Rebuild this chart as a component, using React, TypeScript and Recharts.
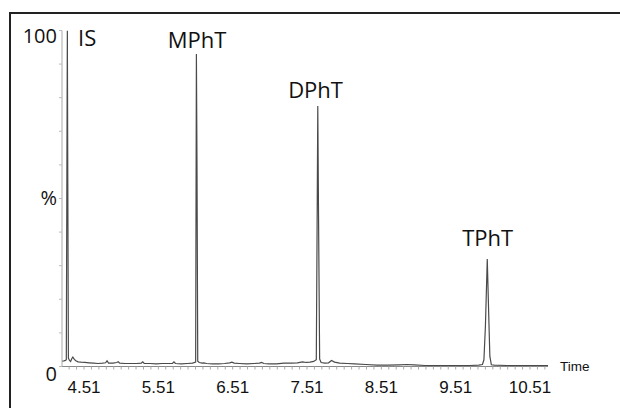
import React from 'react';
import { LineChart, Line, XAxis, YAxis, ReferenceDot, Label } from 'recharts';

// Retention time (min) and relative abundance (%)
const TIME = [
  4.214, 4.24, 4.26, 4.272, 4.28, 4.286, 4.292, 4.30, 4.315, 4.33, 4.345, 4.36, 4.38, 4.40, 4.43, 4.47,
  4.52, 4.58, 4.64, 4.70, 4.76, 4.80, 4.82, 4.84, 4.90, 4.95, 4.97, 4.99, 5.06, 5.14, 5.22, 5.28,
  5.30, 5.32, 5.40, 5.48, 5.56, 5.64, 5.70, 5.72, 5.74, 5.82, 5.90, 5.97, 6.012, 6.022, 6.030, 6.040,
  6.06, 6.10, 6.12, 6.16, 6.24, 6.32, 6.40, 6.47, 6.50, 6.53, 6.60, 6.70, 6.80, 6.87, 6.90, 6.93,
  7.00, 7.10, 7.20, 7.30, 7.38, 7.45, 7.50, 7.55, 7.60, 7.635, 7.648, 7.655, 7.665, 7.68, 7.70, 7.75,
  7.80, 7.84, 7.88, 7.95, 8.05, 8.15, 8.30, 8.45, 8.60, 8.75, 8.85, 8.95, 9.10, 9.30, 9.50, 9.70,
  9.82, 9.87, 9.89, 9.91, 9.935, 9.955, 9.97, 9.99, 10.03, 10.20, 10.40, 10.60, 10.752,
];
const SIGNAL = [
  1.6, 1.7, 1.8, 2.0, 60, 100, 55, 2.5, 1.8, 1.5, 2.3, 2.8, 2.1, 1.7, 1.4, 1.3,
  1.2, 1.1, 1.0, 0.9, 1.0, 1.1, 1.7, 1.0, 1.0, 1.2, 1.4, 1.0, 0.9, 0.9, 0.9, 1.0,
  1.4, 0.9, 0.9, 0.8, 0.9, 0.9, 0.9, 1.4, 0.9, 0.8, 0.9, 1.0, 1.3, 93, 60, 1.6,
  1.2, 1.0, 1.1, 0.9, 0.8, 0.8, 0.9, 1.1, 1.3, 1.0, 0.9, 0.8, 0.9, 1.0, 1.2, 0.9,
  0.8, 0.8, 1.0, 1.0, 1.1, 1.4, 1.2, 1.3, 1.5, 2.0, 50, 77.5, 45, 2.2, 1.2, 1.0,
  1.1, 1.8, 1.3, 1.0, 0.9, 0.8, 0.6, 0.4, 0.4, 0.5, 0.6, 0.5, 0.3, 0.3, 0.3, 0.3,
  0.4, 0.6, 2.0, 12, 32, 15, 3.0, 0.5, 0.4, 0.3, 0.3, 0.3, 0.3,
];

const PEAK_NAMES = ['IS', 'MPhT', 'DPhT', 'TPhT'];
const PEAK_LABEL_T = [4.43, 6.03, 7.625, 9.94];
const PEAK_LABEL_Y = [95.4, 94.8, 79.9, 35.8];
const PEAK_ANCHOR = ['start', 'middle', 'middle', 'middle'];

const X_MAJOR_TICKS = [4.51, 5.51, 6.51, 7.51, 8.51, 9.51, 10.51];
const X_TICK_LABELS = ['4.51', '5.51', '6.51', '7.51', '8.51', '9.51', '10.51'];
const X_MINOR_TICKS = Array.from({ length: 66 }, (_, i) => Math.round((4.21 + i * 0.1) * 100) / 100).filter(
  (v) => v >= 4.214 && v <= 10.752
);
const Y_TICKS = [0, 10, 20, 30, 40, 50, 60, 70, 80, 90, 100];
const Y_TICK_VALUES = [0, 50, 100];
const Y_TICK_LABELS = ['0', '%', '100'];

const data = TIME.map((t, i) => ({ t, v: SIGNAL[i] }));

const XTick = (props: any) => {
  const { x, y, payload } = props;
  const idx = X_MAJOR_TICKS.findIndex((m) => Math.abs(m - payload.value) < 0.001);
  if (idx < 0) return <g />;
  return (
    <text x={x} y={y + 23} textAnchor="middle" fontFamily="'Liberation Sans', Arial, sans-serif" fontSize={17} fill="#111">
      {X_TICK_LABELS[idx]}
    </text>
  );
};

const Y_DY: Record<string, number> = { '0': 14, '%': 6.5, '100': 12.5 };

const YTick = (props: any) => {
  const { y, payload } = props;
  const idx = Y_TICK_VALUES.indexOf(payload.value);
  if (idx < 0) return <g />;
  const lab = Y_TICK_LABELS[idx];
  return (
    <text x={57} y={y + Y_DY[lab]} textAnchor="end" fontFamily="'Open Sans', sans-serif" fontSize={20} fill="#111">
      {lab}
    </text>
  );
};

const PeakLabel = (i: number) => (props: any) => (
  <text
    x={props.cx}
    y={props.cy}
    textAnchor={PEAK_ANCHOR[i] as any}
    fontFamily="'Open Sans', sans-serif"
    fontSize={22}
    fill="#111"
  >
    {PEAK_NAMES[i]}
  </text>
);

export default function App() {
  return (
    <div style={{ position: 'absolute', left: 0, top: 0, width: 620, height: 408, overflow: 'hidden', background: '#fff' }}>
      <div
        style={{
          position: 'absolute',
          left: 9,
          top: 12,
          width: 640,
          height: 420,
          borderLeft: '2px solid #222',
          borderTop: '2px solid #222',
        }}
      />
      <div style={{ position: 'absolute', left: 0, top: 0 }}>
        <LineChart width={620} height={408} data={data} margin={{ top: 30.5, right: 72, bottom: 12, left: 2 }}>
          <XAxis
            dataKey="t"
            type="number"
            domain={[4.214, 10.752]}
            allowDataOverflow
            ticks={X_MINOR_TICKS}
            interval={0}
            height={29.5}
            tickSize={3}
            tickMargin={0}
            stroke="#888"
            tickLine={{ stroke: '#aaa' }}
            tick={XTick}
          >
            <Label
              content={(p: any) => (
                <text
                  x={p.viewBox.x + p.viewBox.width + 12}
                  y={p.viewBox.y + 4}
                  fontFamily="'Liberation Sans', Arial, sans-serif"
                  fontSize={13.5}
                  fill="#111"
                >
                  Time
                </text>
              )}
            />
          </XAxis>
          <YAxis
            type="number"
            domain={[0, 100]}
            allowDataOverflow
            ticks={Y_TICKS}
            interval={0}
            width={60}
            tickSize={3}
            tickMargin={0}
            stroke="#aaa"
            tickLine={{ stroke: '#bbb' }}
            tick={YTick}
          />
          <Line
            type="linear"
            dataKey="v"
            stroke="#4a4a4a"
            strokeWidth={1.2}
            dot={false}
            isAnimationActive={false}
          />
          {PEAK_NAMES.map((n, i) => (
            <ReferenceDot key={n} x={PEAK_LABEL_T[i]} y={PEAK_LABEL_Y[i]} r={0} shape={PeakLabel(i)} />
          ))}
        </LineChart>
      </div>
    </div>
  );
}
